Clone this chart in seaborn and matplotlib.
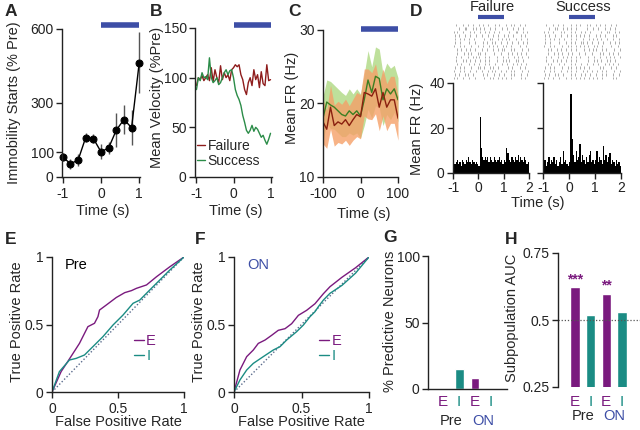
import numpy as np
import pandas as pd
import matplotlib
matplotlib.use("Agg")
import matplotlib.pyplot as plt
import seaborn as sns

# DATA
# A: immobility starts (% pre)
a_time = [-1.0, -0.8, -0.6, -0.4, -0.2, 0.0, 0.2, 0.4, 0.6, 0.8, 1.0]
a_starts = [81, 54, 68, 160, 156, 102, 118, 190, 233, 200, 464]
a_err = [15, 20, 25, 18, 20, 30, 25, 70, 60, 70, 125]

# B: mean velocity (% pre), 0.05 s steps from -1 to 1
b_time = np.round(np.arange(-1.0, 1.001, 0.05), 2)
b_failure = [92, 100, 98, 102, 97, 100, 103, 97, 110, 96, 108, 100, 95, 112, 98, 105, 100, 103, 97, 108,
             110, 113, 111, 113, 103, 98, 88, 83, 95, 100, 92, 108, 98, 103, 90, 106, 94, 92, 113, 97, 98]
b_success = [88, 100, 97, 105, 100, 101, 98, 120, 100, 95, 97, 100, 93, 95, 100, 105, 108, 103, 107, 108,
             100, 88, 82, 78, 72, 62, 55, 47, 44, 47, 52, 46, 50, 48, 44, 40, 42, 37, 33, 38, 44]

# C: mean firing rate (Hz) with sem
c_time = list(range(-100, 101, 10))
c_success = [18.0, 20.2, 19.8, 19.5, 19.0, 18.5, 18.3, 19.0, 18.5, 19.0, 18.3,
             20.5, 23.2, 21.5, 23.7, 23.4, 20.5, 22.0, 21.3, 22.0, 20.5]
c_success_sem = [3.0, 3.0, 3.2, 3.0, 3.0, 3.0, 2.8, 3.0, 2.8, 3.0, 3.0,
                 3.5, 4.0, 3.5, 4.0, 4.0, 3.5, 3.5, 3.5, 3.2, 3.0]
c_failure = [17.5, 16.5, 19.5, 17.0, 17.5, 17.2, 17.8, 17.0, 17.8, 18.5, 18.2,
             21.5, 21.3, 21.0, 22.0, 19.5, 21.5, 19.5, 20.5, 20.5, 18.0]
c_failure_sem = [3.0, 2.6, 3.0, 2.8, 2.8, 2.7, 2.8, 2.7, 2.8, 3.0, 3.0,
                 3.2, 3.4, 3.2, 3.4, 3.2, 3.2, 3.2, 3.2, 3.2, 3.0]

# D: example neuron PSTH (Hz), 0.05 s bins from -1 to 2
d_failure_rate = [6, 4, 5, 6, 4, 5, 3, 6, 5, 4, 6, 5, 7, 5, 4, 6, 5, 4, 5, 4,
                  3, 25, 11, 7, 6, 7, 6, 7, 5, 7, 6, 5, 7, 6, 5, 6, 7, 5, 6, 4,
                  6, 5, 11, 9, 6, 5, 7, 6, 5, 7, 6, 8, 5, 7, 6, 5, 7, 6, 4, 5]
d_success_rate = [4, 6, 3, 5, 7, 4, 6, 5, 7, 4, 6, 3, 5, 7, 4, 10, 5, 6, 4, 3,
                  5, 35, 15, 8, 5, 10, 6, 7, 13, 5, 8, 6, 4, 7, 5, 8, 10, 5, 6, 4,
                  6, 10, 5, 7, 6, 4, 12, 6, 8, 5, 7, 9, 4, 6, 5, 3, 6, 4, 5, 3]
# raster rows, one char per 0.05 s bin, '|' = spike
d_failure_raster = [
    "..|....|.. .|...|.... |..|...|.. ...|..|... .|...|..|. ..|...|...",
    "....|....| |....|..|. .|..|....| ...|....|. ..|....|.. .|...|....",
    "|..|...|.. ...|..|... .|...|..|. ..|...|... ....|....| |....|..|.",
    ".|..|....| ...|....|. ..|....|.. .|...|.... |..|...|.. ...|..|...",
    ".|...|..|. ..|...|... ....|....| |....|..|. .|..|....| ...|....|.",
    ".|...|.... ..|....|.. ...|..|... |..|...|.. ..|...|... .|...|..|.",
    "|....|..|. ....|....| ...|....|. .|..|....| .|...|.... ..|....|..",
    "...|..|... |..|...|.. ..|...|... .|...|..|. |....|..|. ....|....|",
    "...|....|. .|..|....| .|...|.... ..|....|.. ...|..|... |..|...|..",
    "..|...|... .|...|..|. |....|..|. ....|....| ...|....|. .|..|....|",
    "..|....|.. |..|...|.. .|...|..|. ....|....| .|..|....| .|...|....",
    "...|..|... ..|...|... |....|..|. ...|....|. ..|....|.. |..|...|..",
    ".|...|..|. ....|....| .|..|....| .|...|.... ...|..|... ..|...|...",
    "|....|..|. ...|....|. ..|....|.. |..|...|.. .|...|..|. ....|....|",
    ".|..|....| .|...|.... ...|..|... ..|...|... |....|..|. ...|....|.",
    "|..|...|.. ..|....|.. ....|....| .|...|..|. .|...|.... ...|..|...",
]
d_success_raster = [
    "..|....|.. .|...|.... .|...|..|. ...|..|... |..|...|.. ..|...|...",
    "....|....| |....|..|. .|...|.... ...|....|. ..|....|.. .|...|....",
    "|..|...|.. ...|..|... .|..|....| ..|...|... ....|....| |....|..|.",
    ".|..|....| ...|....|. .|...|..|. .|...|.... |..|...|.. ...|..|...",
    ".|...|..|. ..|...|... .|...|.... |....|..|. .|..|....| ...|....|.",
    ".|...|.... ..|....|.. .|..|....| |..|...|.. ..|...|... .|...|..|.",
    "|....|..|. ....|....| .|...|..|. .|..|....| .|...|.... ..|....|..",
    "...|..|... |..|...|.. .|...|.... .|...|..|. |....|..|. ....|....|",
    "...|....|. .|..|....| ..|....|.. ..|....|.. ...|..|... |..|...|..",
    "..|...|... .|...|..|. .|...|..|. ....|....| ...|....|. .|..|....|",
    "..|....|.. |..|...|.. .|...|.... ....|....| .|..|....| .|...|....",
    "...|..|... ..|...|... .|..|....| ...|....|. ..|....|.. |..|...|..",
    ".|...|..|. ....|....| .|...|..|. .|...|.... ...|..|... ..|...|...",
    "|....|..|. ...|....|. .|...|.... |..|...|.. .|...|..|. ....|....|",
    ".|..|....| .|...|.... .|..|....| ..|...|... |....|..|. ...|....|.",
    "|..|...|.. ..|....|.. .|...|..|. .|...|..|. .|...|.... ...|..|...",
]

# E, F: ROC curves
e_fpr_E = [0, 0.069, 0.119, 0.208, 0.272, 0.322, 0.348, 0.360, 0.411, 0.487, 0.551, 0.602, 0.640, 0.716, 0.792, 0.893, 1.0]
e_tpr_E = [0, 0.151, 0.225, 0.360, 0.484, 0.509, 0.558, 0.607, 0.644, 0.700, 0.736, 0.751, 0.768, 0.793, 0.854, 0.928, 1.0]
e_fpr_I = [0, 0.056, 0.132, 0.183, 0.246, 0.310, 0.386, 0.462, 0.538, 0.614, 0.665, 0.741, 0.817, 0.893, 1.0]
e_tpr_I = [0, 0.151, 0.237, 0.249, 0.274, 0.336, 0.410, 0.496, 0.570, 0.657, 0.681, 0.756, 0.830, 0.904, 1.0]
f_fpr_E = [0, 0.044, 0.094, 0.143, 0.180, 0.230, 0.279, 0.328, 0.378, 0.427, 0.477, 0.538, 0.600, 0.662, 0.711, 0.800, 0.900, 1.0]
f_tpr_E = [0, 0.163, 0.262, 0.311, 0.360, 0.385, 0.420, 0.457, 0.469, 0.506, 0.568, 0.605, 0.654, 0.728, 0.780, 0.850, 0.920, 1.0]
f_fpr_I = [0, 0.044, 0.094, 0.143, 0.217, 0.291, 0.341, 0.390, 0.464, 0.514, 0.563, 0.600, 0.625, 0.662, 0.711, 0.800, 0.900, 1.0]
f_tpr_I = [0, 0.089, 0.163, 0.212, 0.262, 0.311, 0.336, 0.385, 0.447, 0.496, 0.558, 0.595, 0.632, 0.681, 0.731, 0.790, 0.880, 1.0]

# G, H: subpopulations
sub_cells = ["E", "I", "E", "I"]
sub_epochs = ["Pre", "Pre", "ON", "ON"]
g_pct_predictive = [0, 15, 8, 0]
h_auc = [0.622, 0.517, 0.598, 0.531]
h_stars = ["***", "", "**", ""]

# COLORS
BLUE = "#3d4ea6"
PURPLE = "#7a1a7e"
TEAL = "#1b8c84"
RED = "#8e1c1c"
GREEN = "#2b8c48"

sns.set_theme(style="ticks")
plt.rcParams["font.family"] = ["Liberation Sans", "DejaVu Sans"]
plt.rcParams["axes.unicode_minus"] = False

W, H = 640, 430
fig = plt.figure(figsize=(W / 100, H / 100), dpi=100)


def add_ax(l, t, r, b):
    return fig.add_axes([l / W, 1 - b / H, (r - l) / W, (b - t) / H])


def style(ax):
    sns.despine(ax=ax)
    for s in ax.spines.values():
        s.set_linewidth(1)
        s.set_color("#222222")
    ax.tick_params(labelsize=10, length=4, width=1, pad=2, colors="#222222")
    ax.tick_params(axis="x", pad=3)


def ylab(ax, text, x, y, **kw):
    ax.set_ylabel(text, fontsize=10.5, va="center", ha="center", **kw)
    ax.yaxis.set_label_coords(x / W, 1 - y / H, transform=fig.transFigure)


def xlab(ax, text, x, y, **kw):
    ax.set_xlabel(text, fontsize=10.5, va="center", ha="center", **kw)
    ax.xaxis.set_label_coords(x / W, 1 - y / H, transform=fig.transFigure)


def ftext(x, y, s, **kw):
    fig.text(x / W, 1 - y / H, s, **kw)


# PANEL A
axA = add_ax(62, 29, 140, 177)
axA.errorbar(a_time, a_starts, yerr=a_err, fmt="none", ecolor="#555555", elinewidth=1, clip_on=False)
sns.lineplot(x=a_time, y=a_starts, ax=axA, color="black", lw=1, marker="o", markersize=5,
             markeredgecolor="black", clip_on=False)
axA.set_xlim(-1.02, 1.02)
axA.set_ylim(0, 600)
axA.set_yticks([0, 100, 300, 600])
axA.set_xticks([-1, 0, 1])
axA.plot([0, 1], [618, 618], color=BLUE, lw=4, solid_capstyle="butt", clip_on=False)
style(axA)
ylab(axA, "Immobility Starts (% Pre)", 14, 103)
xlab(axA, "Time (s)", 103, 211)

# PANEL B
axB = add_ax(195, 28, 272, 177)
df_b = pd.DataFrame({
    "time": np.concatenate([b_time, b_time]),
    "velocity": b_failure + b_success,
    "trial": ["Failure"] * len(b_time) + ["Success"] * len(b_time),
})
sns.lineplot(data=df_b, x="time", y="velocity", hue="trial", palette=[RED, GREEN], lw=1, ax=axB)
axB.set_xlim(-1.04, 1.04)
axB.set_ylim(0, 150)
axB.set_yticks([0, 50, 100, 150])
axB.set_xticks([-1, 0, 1])
axB.plot([0, 1], [153, 153], color=BLUE, lw=4, solid_capstyle="butt", clip_on=False)
axB.legend(loc="lower left", bbox_to_anchor=(0.02, 0.06), frameon=False, fontsize=10,
           handlelength=0.6, handletextpad=0.2, labelspacing=0.1, borderaxespad=0, borderpad=0)
style(axB)
ylab(axB, "Mean Velocity (%Pre)", 157, 97)
xlab(axB, "Time (s)", 236, 211)

# PANEL C
axC = add_ax(323, 30, 398, 177)
cs = np.array(c_success)
cse = np.array(c_success_sem)
cf = np.array(c_failure)
cfe = np.array(c_failure_sem)
axC.fill_between(c_time, cs - cse, cs + cse, color="#a9d67a", alpha=0.75, lw=0)
axC.fill_between(c_time, cf - cfe, cf + cfe, color="#f5a068", alpha=0.8, lw=0)
sns.lineplot(x=c_time, y=c_success, ax=axC, color="#3c7f22", lw=1)
sns.lineplot(x=c_time, y=c_failure, ax=axC, color="#8a200f", lw=1)
axC.set_xlim(-100, 100)
axC.set_ylim(10, 30)
axC.set_yticks([10, 20, 30])
axC.set_xticks([-100, 0, 100])
axC.plot([0, 100], [30.15, 30.15], color=BLUE, lw=4, solid_capstyle="butt", clip_on=False)
style(axC)
ylab(axC, "Mean FR (Hz)", 292, 98)
xlab(axC, "Time (s)", 364, 214)

# PANEL D
edges = np.round(np.arange(-1.0, 2.001, 0.05), 2)
centers = edges[:-1] + 0.025
hist_axes = []
for (l, r), rate, raster, title in [((453, 529), d_failure_rate, d_failure_raster, "Failure"),
                                    ((543, 621), d_success_rate, d_success_raster, "Success")]:
    axh = add_ax(l, 83, r, 173)
    df_d = pd.DataFrame({"time": centers, "rate": rate})
    sns.histplot(data=df_d, x="time", weights="rate", bins=list(edges), element="step", fill=True,
                 color="black", alpha=1, lw=0, ax=axh)
    axh.set_xlim(-1, 2)
    axh.set_ylim(0, 40)
    axh.set_yticks([0, 20, 40])
    axh.set_xticks([-1, 0, 1, 2])
    style(axh)
    axh.tick_params(axis="x", pad=1.5)
    axh.set_xlabel("")
    if title == "Failure":
        ylab(axh, "Mean FR (Hz)", 417, 129)
    else:
        axh.set_yticklabels([])
        axh.set_ylabel("")
    hist_axes.append(axh)

    axr = add_ax(l, 23, r, 80)
    rows = [row.replace(" ", "") for row in raster]
    spikes = [[-1 + (k + 0.5) * 0.05 for k, ch in enumerate(row) if ch == "|"] for row in rows]
    axr.eventplot(spikes, colors="#8a8a8a", linewidths=0.5, linelengths=0.7)
    axr.set_xlim(-1, 2)
    axr.set_ylim(len(rows) - 0.5, -0.5)
    axr.axis("off")
    axr.plot([0, 1], [-2.3, -2.3], color=BLUE, lw=3, solid_capstyle="butt", clip_on=False)
    ftext((l + r) / 2 + 1, 7, title, ha="center", va="center", fontsize=10.5)
xlab(hist_axes[1], "Time (s)", 538, 203)

# PANELS E, F
for (l, r), fprE, tprE, fprI, tprI, tag, tagc, leg_x in [
        ((52, 184), e_fpr_E, e_tpr_E, e_fpr_I, e_tpr_I, "Pre", "black", 0.62),
        ((234, 369), f_fpr_E, f_tpr_E, f_fpr_I, f_tpr_I, "ON", BLUE, 0.63)]:
    ax = add_ax(l, 257, r, 392)
    ax.plot([0, 1], [0, 1], ls=(0, (1, 1.5)), color="#5a6b8c", lw=1)
    sns.lineplot(x=fprE, y=tprE, ax=ax, color=PURPLE, lw=1, sort=False, estimator=None, label="E")
    sns.lineplot(x=fprI, y=tprI, ax=ax, color=TEAL, lw=1, sort=False, estimator=None, label="I")
    ax.set_xlim(0, 1)
    ax.set_ylim(0, 1)
    ax.set_xticks([0, 0.5, 1])
    ax.set_xticklabels(["0", "0.5", "1"])
    ax.set_yticks([0, 0.5, 1])
    ax.set_yticklabels(["0", "0.5", "1"])
    ax.legend(loc="center left", bbox_to_anchor=(leg_x, 0.32), frameon=False, fontsize=10.5,
              handlelength=0.7, handletextpad=0.15, labelspacing=0.05, labelcolor="linecolor",
              borderaxespad=0, borderpad=0)
    ax.text(0.1, 0.94, tag, transform=ax.transAxes, color=tagc, fontsize=10.5, va="center")
    style(ax)
    ylab(ax, "True Positive Rate", l - 35, 322)
    xlab(ax, "False Positive Rate", (l + r) / 2, 422)

# PANEL G
df_sub = pd.DataFrame({
    "bar": [c + " " + e for c, e in zip(sub_cells, sub_epochs)],
    "pct": g_pct_predictive,
    "auc": h_auc,
})
sub_colors = [PURPLE if c == "E" else TEAL for c in sub_cells]

axG = add_ax(428, 256, 507, 389)
sns.barplot(data=df_sub, x="bar", y="pct", hue="bar", palette=sub_colors, saturation=1,
            width=0.56, legend=False, ax=axG)
axG.set_xlim(-0.94, 4.0)
axG.set_ylim(0, 100)
axG.set_yticks([0, 50, 100])
axG.set_xticks(range(4))
axG.set_xticklabels(sub_cells)
style(axG)
axG.tick_params(axis="x", length=0, pad=4, labelsize=11)
for t, c in zip(axG.get_xticklabels(), sub_colors):
    t.set_color(c)
ylab(axG, "% Predictive Neurons", 390, 321)
axG.set_xlabel("")
axG.text(0.5, -0.24, "Pre", transform=axG.get_xaxis_transform(), ha="center", va="center", fontsize=10.5)
axG.text(2.5, -0.24, "ON", transform=axG.get_xaxis_transform(), ha="center", va="center", fontsize=10.5, color=BLUE)

# PANEL H
axH = add_ax(558, 253, 640, 387)
sns.barplot(data=df_sub, x="bar", y="auc", hue="bar", palette=sub_colors, saturation=1,
            width=0.6, legend=False, ax=axH)
axH.axhline(0.5, color="#555555", ls=(0, (1, 1.5)), lw=0.9)
axH.set_xlim(-1.08, 4.15)
axH.set_ylim(0.25, 0.75)
axH.set_yticks([0.25, 0.5, 0.75])
axH.set_yticklabels(["0.25", "0.5", "0.75"])
axH.set_xticks(range(4))
axH.set_xticklabels(sub_cells)
style(axH)
axH.spines["bottom"].set_visible(False)
axH.tick_params(axis="x", length=0, pad=6, labelsize=11)
for t, c in zip(axH.get_xticklabels(), sub_colors):
    t.set_color(c)
for i, s in enumerate(h_stars):
    if s:
        axH.text(i, h_auc[i] + 0.004, s, ha="center", va="bottom", color=PURPLE, fontsize=10, fontweight="bold")
ylab(axH, "Subpopulation AUC", 512, 318)
axH.set_xlabel("")
axH.text(0.5, -0.22, "Pre", transform=axH.get_xaxis_transform(), ha="center", va="center", fontsize=10.5)
axH.text(2.5, -0.22, "ON", transform=axH.get_xaxis_transform(), ha="center", va="center", fontsize=10.5, color=BLUE)

# PANEL LETTERS
letters = [(5, 11, "A"), (150, 11, "B"), (288, 11, "C"), (410, 11, "D"),
           (5, 240, "E"), (195, 240, "F"), (383, 238, "G"), (505, 240, "H")]
for x, y, s in letters:
    ftext(x, y, s, ha="left", va="center", fontsize=12.5, fontweight="bold")

fig.savefig("out.png", dpi=100)
